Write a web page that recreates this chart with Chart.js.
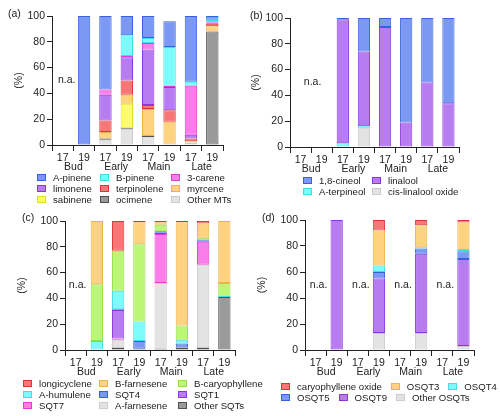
<!DOCTYPE html>
<html>
<head>
<meta charset="utf-8">
<script src="https://cdn.jsdelivr.net/npm/chart.js@4.4.1/dist/chart.umd.min.js"></script>
<style>
body { margin:0; background:#fff; width:500px; height:416px; position:relative; overflow:hidden; font-family:"Liberation Sans", Arial, sans-serif; color:#222; }
canvas { position:absolute; }
.tag { position:absolute; font-size:10.5px; }
.legend { position:absolute; font-size:9.6px; line-height:11px; }
.grid { display:grid; }
.row { display:flex; }
.item { display:flex; align-items:center; white-space:nowrap; }
.row .item { margin-right:9px; }
.box { width:9px; height:7px; box-sizing:border-box; border:1px solid; margin-right:7px; flex:none; }
</style>
</head>
<body>
<canvas id="ca" width="250" height="175" style="left:0;top:0"></canvas>
<canvas id="cb" width="250" height="175" style="left:250px;top:0"></canvas>
<canvas id="cc" width="250" height="175" style="left:0;top:205px"></canvas>
<canvas id="cd" width="250" height="175" style="left:250px;top:205px"></canvas>
<div class="tag" style="left:8px;top:7px">(a)</div>
<div class="tag" style="left:250px;top:9px">(b)</div>
<div class="tag" style="left:22px;top:211px">(c)</div>
<div class="tag" style="left:262px;top:211px">(d)</div>
<div class="legend" id="la" style="left:37px;top:172px"></div>
<div class="legend" id="lb" style="left:303px;top:175px"></div>
<div class="legend" id="lc" style="left:23px;top:378px"></div>
<div class="legend" id="ld" style="left:281px;top:381px"></div>
<script>
const categories = ['17', '19', '17', '19', '17', '19', '17', '19'];
const stages = ['Bud', 'Early', 'Main', 'Late'];

// (a) monoterpenes, bottom of the stack first
const mtOther = [0, 0, 4, 12, 6, 1, 2, 0];
const mtOcimene = [0, 0, 1, 1, 1, 0, 0, 88];
const mtSabinene = [0, 0, 0, 19, 0, 0, 0, 0];
const mtMyrcene = [0, 0, 5, 7, 21, 17, 1, 4];
const mtTerpinolene = [0, 0, 9, 11, 3, 9, 2, 2];
const mtLimonene = [0, 0, 20, 18, 43, 18, 3, 1];
const mtCarene = [0, 0, 4, 1, 5, 1, 38, 1];
const mtBPinene = [0, 0, 0, 16, 4, 30, 3, 1];
const mtAPinene = [0, 100, 57, 15, 17, 20, 51, 3];

// (b) oxygenated monoterpenes
const omtOxide = [0, 0, 0, 15, 0, 0, 0, 0];
const omtTerpineol = [0, 0, 3, 1, 0, 0, 0, 0];
const omtLinalool = [0, 0, 96, 58, 93, 19, 50, 34];
const omtCineol = [0, 0, 1, 26, 7, 81, 50, 66];

// (c) sesquiterpenes
const sqtOther = [0, 0, 2, 1, 1, 2, 2, 41];
const sqtAFarnesene = [0, 0, 6, 0, 51, 0, 64, 0];
const sqt7 = [0, 0, 1, 0, 38, 0, 18, 0];
const sqt1 = [0, 0, 22, 0, 0, 0, 0, 0];
const sqt4 = [0, 0, 0.5, 6, 2, 3, 1, 0];
const sqtHumulene = [0, 7, 14.5, 15, 0, 3, 0, 1];
const sqtCaryophyllene = [0, 44, 31, 60, 5, 11, 2, 10];
const sqtBFarnesene = [0, 49, 0, 17, 2, 80, 11, 48];
const sqtLongicyclene = [0, 0, 23, 1, 1, 1, 2, 0];

// (d) oxygenated sesquiterpenes
const osqtOther = [0, 0, 0, 13, 0, 13, 0, 3];
const osqt9 = [0, 100, 0, 42, 0, 61, 0, 67];
const osqt5 = [0, 0, 0, 5, 0, 4, 0, 6];
const osqt4 = [0, 0, 0, 5, 0, 1, 0, 1];
const osqt3 = [0, 0, 0, 27, 0, 17, 0, 21];
const osqtCarOxide = [0, 0, 0, 8, 0, 4, 0, 2];

const colors = {
    blue: ['#7b98f3', '#3563dc'],
    cyan: ['#7dfbfb', '#3fdde6'],
    pink: ['#fb7de9', '#e03fd4'],
    purple: ['#b67cf0', '#8b35dd'],
    red: ['#f77676', '#e03434'],
    orange: ['#fdd37f', '#efb24a'],
    yellow: ['#fcfc6a', '#dede30'],
    green: ['#bbf674', '#93e048'],
    dark: ['#9a9a9a', '#505050'],
    light: ['#e3e3e3', '#cccccc']
};

const panels = [
    { id: 'a', area: [52, 223, 16, 145], titlePad: 13, na: [[0, 4]], cols: '63px 71px auto',
      series: [['Other MTs', mtOther, 'light'], ['ocimene', mtOcimene, 'dark'], ['sabinene', mtSabinene, 'yellow'],
               ['myrcene', mtMyrcene, 'orange'], ['terpinolene', mtTerpinolene, 'red'], ['limonene', mtLimonene, 'purple'],
               ['3-carene', mtCarene, 'pink'], ['B-pinene', mtBPinene, 'cyan'], ['A-pinene', mtAPinene, 'blue']] },
    { id: 'b', area: [40, 209, 18, 147], titlePad: 0, na: [[0, 12]], cols: '69px auto',
      series: [['cis-linalool oxide', omtOxide, 'light'], ['A-terpineol', omtTerpineol, 'cyan'],
               ['linalool', omtLinalool, 'purple'], ['1,8-cineol', omtCineol, 'blue']] },
    { id: 'c', area: [65, 235, 16, 145], titlePad: 16, na: [[0, 2]], cols: '76px 79px auto',
      series: [['Other SQTs', sqtOther, 'dark'], ['A-farnesene', sqtAFarnesene, 'light'], ['SQT7', sqt7, 'pink'],
               ['SQT1', sqt1, 'purple'], ['SQT4', sqt4, 'blue'], ['A-humulene', sqtHumulene, 'cyan'],
               ['B-caryophyllene', sqtCaryophyllene, 'green'], ['B-farnesene', sqtBFarnesene, 'orange'],
               ['longicyclene', sqtLongicyclene, 'red']] },
    { id: 'd', area: [55, 224, 15, 145], titlePad: 6, na: [[0, 3], [2, 3], [4, 3], [6, 3]], cols: null,
      series: [['Other OSQTs', osqtOther, 'light'], ['OSQT9', osqt9, 'purple'], ['OSQT5', osqt5, 'blue'],
               ['OSQT4', osqt4, 'cyan'], ['OSQT3', osqt3, 'orange'], ['caryophyllene oxide', osqtCarOxide, 'red']] }
];

const font = { family: '"Liberation Sans", Arial, sans-serif', size: 10.5 };
const ink = '#222';

const naLabel = {
    id: 'naLabel',
    afterDatasetsDraw(chart, args, opts) {
        const { ctx, scales: { x, y } } = chart;
        ctx.save();
        ctx.font = '10.5px "Liberation Sans", Arial, sans-serif';
        ctx.fillStyle = ink;
        ctx.textAlign = 'center';
        ctx.textBaseline = 'middle';
        opts.spots.forEach(([i, dx]) => ctx.fillText('n.a.', x.getPixelForValue(i) + dx, y.getPixelForValue(50)));
        ctx.restore();
    }
};

function MakePanel(p) {
    const W = 250, H = 175;
    const [left, right, top, bottom] = p.area;
    new Chart(document.getElementById('c' + p.id), {
        type: 'bar',
        data: {
            labels: categories,
            datasets: p.series.map(([name, vals, col]) => ({
                label: name,
                data: vals.map(v => v || null),
                backgroundColor: colors[col][0],
                borderColor: colors[col][1],
                borderWidth: 1,
                borderSkipped: false,
                barPercentage: 0.58,
                categoryPercentage: 1
            }))
        },
        options: {
            responsive: false,
            animation: false,
            layout: { padding: { left: 0, right: W - right, top: top, bottom: 0 } },
            plugins: { legend: { display: false }, tooltip: { enabled: false }, naLabel: { spots: p.na } },
            scales: {
                x: {
                    stacked: true,
                    grid: { offset: true, drawOnChartArea: false, tickLength: 6, color: ink },
                    border: { color: ink },
                    ticks: { font: font, color: ink, padding: 1, maxRotation: 0, autoSkip: false },
                    afterFit: s => { s.height = 16; }
                },
                x2: {
                    type: 'category',
                    labels: stages,
                    position: 'bottom',
                    offset: true,
                    grid: { display: false, drawTicks: false, tickLength: 0 },
                    border: { display: false },
                    ticks: { font: font, color: ink, padding: 0 },
                    afterFit: s => { s.height = H - bottom - 16; }
                },
                y: {
                    stacked: true,
                    min: 0,
                    max: 100,
                    ticks: { stepSize: 20, font: font, color: ink, padding: 2 },
                    grid: { drawOnChartArea: false, tickLength: 5, color: ink },
                    border: { color: ink },
                    title: { display: true, text: '(%)', font: font, color: ink, padding: { top: p.titlePad, bottom: 0 } },
                    afterFit: s => { s.width = left; }
                }
            }
        },
        plugins: [naLabel]
    });
}

function MakeLegend(p) {
    const holder = document.getElementById('l' + p.id);
    const items = p.series.slice().reverse().map(([name, , col]) =>
        `<div class="item"><span class="box" style="background:${colors[col][0]};border-color:${colors[col][1]}"></span>${name}</div>`);
    if (p.cols) {
        holder.classList.add('grid');
        holder.style.gridTemplateColumns = p.cols;
        holder.innerHTML = items.join('');
    } else {
        let html = '';
        for (let i = 0; i < items.length; i += 3) {
            html += `<div class="row">${items.slice(i, i + 3).join('')}</div>`;
        }
        holder.innerHTML = html;
    }
}

panels.forEach(p => { MakePanel(p); MakeLegend(p); });
</script>
</body>
</html>
